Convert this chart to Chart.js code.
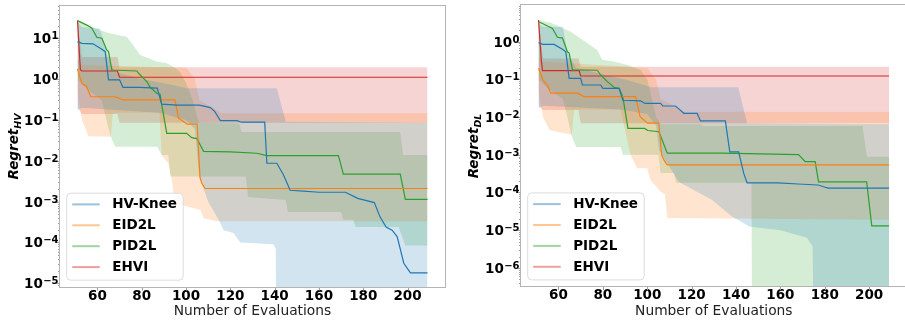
<!DOCTYPE html>
<html lang="en">
<head>
<meta charset="UTF-8" />
<title>Regret curves</title>
<script src="https://cdn.jsdelivr.net/npm/chart.js"></script>
<style>
  html, body { margin: 0; padding: 0; background: #fff; overflow: hidden; }
  body { width: 905px; height: 323px; position: relative; }
  canvas { position: absolute; top: 0; }
  #hvChart { left: 0; }
  #dlChart { left: 455px; }
</style>
</head>
<body>
<canvas id="hvChart" width="455" height="323"></canvas>
<canvas id="dlChart" width="470" height="323"></canvas>
<script>
const methods = ["HV-Knee", "EID2L", "PID2L", "EHVI"];
const xTicks = [60, 80, 100, 120, 140, 160, 180, 200];
const hvTicks = [1e-5, 1e-4, 1e-3, 1e-2, 1e-1, 1, 10];
const hvTickExps = ["−5", "−4", "−3", "−2", "−1", "0", "1"];
const dlTicks = [1e-6, 1e-5, 1e-4, 1e-3, 1e-2, 1e-1, 1];
const dlTickExps = ["−6", "−5", "−4", "−3", "−2", "−1", "0"];

// left panel: Regret_HV  ([evaluations, value])
const kneeMeanHV = [[51,8.3],[53,7.5],[58,7.3],[62,5.4],[63.5,4.7],[65,0.96],[70,0.96],[71.5,0.63],[79,0.63],[87,0.6],[89,0.245],[96,0.23],[106,0.23],[111,0.2],[113,0.16],[115.5,0.096],[123,0.096],[125,0.088],[135.5,0.088],[136.5,0.0087],[141,0.0087],[144,0.0045],[147,0.0019],[153,0.0018],[160,0.0017],[172,0.0017],[177.5,0.0012],[185,0.00095],[187.5,0.00043],[190.3,0.00024],[193,0.0002],[195.3,0.00014],[198.3,0.000031],[201.3,0.000018],[209,0.000018]];
const kneeLowHV = [[51,0.175],[53,0.2],[88,0.15],[100,0.1],[104,0.06],[106,0.004],[110,0.001],[114.7,0.00036],[117,0.0002],[121.4,0.00017],[124.5,0.0001],[139.5,0.00009],[140.5,0.00007],[141,1e-9],[209,1e-9]];
const kneeHighHV = [[51,25],[53,19],[61,17],[63,8],[65,3],[68,1.5],[80,1.0],[95,0.7],[100,0.6],[141,0.6],[145,0.09],[209,0.085]];

const eid2lMeanHV = [[51,1.78],[53,0.77],[55,0.68],[57,0.37],[68,0.37],[71.5,0.31],[95,0.31],[96.6,0.11],[99,0.09],[100.5,0.079],[105,0.079],[106.3,0.004],[107,0.0029],[108.6,0.0021],[209,0.0021]];
const eid2lLowHV = [[51,0.5],[53,0.1],[56,0.04],[66,0.039],[67,0.15],[88,0.15],[89,0.0138],[92,0.0087],[93.6,0.0034],[95,0.0009],[106.4,0.00063],[108,0.00039],[114,0.00033],[209,0.00033]];
const eid2lHighHV = [[51,3.0],[53,2.2],[100,1.9],[104,1.0],[106,0.3],[112,0.2],[116,0.146],[209,0.146]];

const pid2lMeanHV = [[51,27],[55.2,21],[57.5,17.6],[59.7,10.6],[62,10],[64.2,5.2],[65,4.7],[66.5,1.67],[77.8,1.58],[79.3,1.26],[82.3,0.87],[83.8,0.63],[86.8,0.45],[88.3,0.42],[89,0.24],[91.3,0.047],[100.3,0.047],[102.6,0.037],[104.9,0.035],[107.9,0.017],[120,0.0165],[132,0.0153],[136.5,0.0134],[168.8,0.0134],[171,0.0047],[196.7,0.0047],[199,0.00114],[209,0.00114]];
const pid2lLowHV = [[51,1.0],[55,0.6],[62,0.3],[64,0.1],[66,0.04],[68,0.022],[87,0.022],[89,0.0138],[92,0.0138],[93,0.0041],[127,0.0041],[128,0.0013],[145,0.0011],[146,0.00056],[170,0.00056],[171,0.00036],[175.5,0.00036],[176.5,0.00024],[196,0.00024],[199,0.000084],[209,0.000084]];
const pid2lHighHV = [[51,27],[53.5,24],[61.2,16],[65.7,13],[73.2,10.9],[75.5,7.5],[79.3,3.9],[86.8,2.7],[91.3,2.45],[94.3,2.0],[97.3,1.5],[100,0.8],[103,0.3],[105,0.12],[106,0.085],[124,0.082],[125,0.051],[196.6,0.051],[198,0.0138],[209,0.0138]];

const ehviMeanHV = [[51,27],[52.3,1.7],[53,1.58],[69,1.58],[70,1.11],[209,1.11]];
const ehviLowHV = [[51,0.2],[53,0.14],[69,0.14],[70,0.085],[209,0.085]];
const ehviHighHV = [[51,27],[53,3.5],[69,3.5],[70,1.95],[209,1.95]];

// right panel: Regret_DL
const kneeMeanDL = [[51,0.94],[53,0.85],[58,0.85],[61.8,0.63],[63.3,0.54],[64.8,0.107],[70,0.107],[70.8,0.071],[79,0.071],[80,0.058],[87.3,0.058],[89,0.028],[97,0.027],[99,0.023],[106,0.023],[107,0.0197],[112.7,0.0197],[114,0.017],[116.5,0.0126],[122.5,0.0125],[124,0.0079],[135.2,0.0079],[137.2,0.0012],[141.2,0.0012],[143.5,0.00032],[145,0.00018],[159,0.00018],[168,0.000168],[177,0.000158],[179.5,0.000142],[181.5,0.00013],[209,0.00013]];
const kneeLowDL = [[51,0.017],[53,0.02],[88,0.016],[100,0.012],[104,0.006],[105.3,0.00134],[114.3,0.00019],[129.2,0.000063],[138.2,0.000023],[146,0.0000125],[160,0.00001],[172,0.0000063],[174.5,0.0000037],[175.5,1e-9],[209,1e-9]];
const kneeHighDL = [[51,3.0],[53,2.5],[62,2.5],[64,0.5],[68,0.2],[90,0.1],[102,0.062],[141,0.062],[145,0.0069],[209,0.0065]];

const eid2lMeanDL = [[51,0.196],[53,0.096],[55,0.07],[56.5,0.043],[68.5,0.043],[71.5,0.035],[94.8,0.035],[96.8,0.0102],[100.1,0.0069],[105.2,0.0069],[106.5,0.001],[107.5,0.00073],[109,0.00054],[209,0.00054]];
const eid2lLowDL = [[51,0.05],[53,0.01],[56,0.0045],[66,0.0034],[67,0.016],[88,0.016],[92,0.0013],[93,0.00085],[95.5,0.00044],[100,0.00044],[101.5,0.00021],[106,0.000105],[108,0.00009],[109,0.000021],[209,0.000019]];
const eid2lHighDL = [[51,0.4],[53,0.3],[100,0.2],[104,0.1],[106,0.03],[112,0.02],[116,0.0139],[209,0.0139]];

const pid2lMeanDL = [[51,3.4],[53,3.0],[57.3,2.26],[59.5,1.31],[61.8,1.25],[64,0.54],[64.8,0.5],[66.3,0.178],[77.5,0.175],[79,0.131],[82,0.087],[85,0.062],[87.3,0.058],[89,0.035],[91.3,0.005],[98.8,0.005],[100.3,0.0044],[105.3,0.0041],[109,0.0011],[133.7,0.0011],[168.2,0.00101],[171.2,0.00066],[175.7,0.00066],[177.2,0.00019],[198.9,0.00019],[201.2,0.000013],[209,0.000013]];
const pid2lLowDL = [[51,0.1],[55,0.06],[62,0.03],[64,0.01],[66,0.003],[68,0.0016],[88,0.0016],[89,0.001],[105,0.001],[106,0.00033],[112,0.00033],[113,0.00018],[147,0.00018],[147.3,1e-9],[209,1e-9]];
const pid2lHighDL = [[51,3.76],[56.5,3.2],[65.5,1.84],[77.5,0.6],[79.7,0.33],[85,0.3],[91,0.24],[97,0.177],[100,0.1],[104,0.01],[106,0.0065],[124,0.0065],[125,0.0058],[197,0.0058],[199,0.00089],[209,0.00089]];

const ehviMeanDL = [[51,3.76],[52.3,0.3],[52.8,0.17],[69.3,0.17],[70,0.123],[209,0.123]];
const ehviLowDL = [[51,0.02],[53,0.0154],[69,0.0154],[70,0.0069],[209,0.0069]];
const ehviHighDL = [[51,3.76],[53,0.36],[69,0.36],[70,0.217],[209,0.217]];

const colors = ["31,119,180", "255,127,14", "44,160,44", "214,39,40"];
const family = "'DejaVu Sans', sans-serif";

const pts = arr => arr.map(([x, y]) => ({ x, y }));

const decor = {
  id: "decor",
  afterDraw(chart, args, o) {
    const { ctx, chartArea: a, scales } = chart;
    ctx.save();
    // tick marks
    ctx.strokeStyle = "#a0a0a0";
    ctx.lineWidth = 1;
    ctx.beginPath();
    xTicks.forEach(v => {
      const px = Math.round(scales.x.getPixelForValue(v)) + 0.5;
      ctx.moveTo(px, a.bottom);
      ctx.lineTo(px, a.bottom + 3.5);
    });
    const lo = Math.floor(Math.log10(scales.y.min));
    const hi = Math.ceil(Math.log10(scales.y.max));
    for (let d = lo; d <= hi; d++) {
      for (let k = 1; k < 10; k++) {
        const v = k * Math.pow(10, d);
        if (v < scales.y.min || v > scales.y.max) continue;
        const py = Math.round(scales.y.getPixelForValue(v)) + 0.5;
        ctx.moveTo(a.left, py);
        ctx.lineTo(a.left - (k === 1 ? 3.5 : 2), py);
      }
    }
    ctx.stroke();
    // frame
    ctx.strokeStyle = "#b4b4b4";
    ctx.strokeRect(Math.round(a.left) - 0.5, Math.round(a.top) - 0.5,
      Math.round(a.right - a.left) + 1, Math.round(a.bottom - a.top) + 1);

    // y tick labels: 10 with raised exponent
    ctx.fillStyle = "#000";
    ctx.textBaseline = "alphabetic";
    o.ticks.forEach((v, i) => {
      const py = scales.y.getPixelForValue(v);
      ctx.font = "bold 13.5px " + family;
      const wb = ctx.measureText("10").width;
      ctx.font = "bold 10px " + family;
      const we = ctx.measureText(o.exps[i]).width;
      const x0 = a.left - 1.8 - wb - we;
      ctx.font = "bold 13.5px " + family;
      ctx.fillText("10", x0, py + 5);
      ctx.font = "bold 10px " + family;
      ctx.fillText(o.exps[i], x0 + wb + 0.3, py + 1);
    });

    // y title with subscript
    ctx.translate(o.titleX, (a.top + a.bottom) / 2);
    ctx.rotate(-Math.PI / 2);
    ctx.font = "italic bold 13.5px " + family;
    const w1 = ctx.measureText(o.title).width;
    ctx.font = "italic bold 9.5px " + family;
    const w2 = ctx.measureText(o.sub).width;
    const start = -(w1 + w2) / 2;
    ctx.font = "italic bold 13.5px " + family;
    ctx.fillText(o.title, start, 5);
    ctx.font = "italic bold 9.5px " + family;
    ctx.fillText(o.sub, start + w1, 8);
    ctx.setTransform(1, 0, 0, 1, 0, 0);

    // legend
    const bx = a.left + 6.2, bw = 116.5, bh = 87, by = a.bottom - 7.3 - bh;
    ctx.beginPath();
    ctx.roundRect(bx + 0.5, by + 0.5, bw, bh, 4);
    ctx.fillStyle = "rgba(255,255,255,0.8)";
    ctx.fill();
    ctx.strokeStyle = "#dcdcdc";
    ctx.stroke();
    ctx.font = "bold 13.5px " + family;
    ctx.textBaseline = "middle";
    methods.forEach((m, i) => {
      const y = by + 11.7 + i * 20.9;
      ctx.strokeStyle = "rgba(" + colors[i] + ",0.45)";
      ctx.lineWidth = 2;
      ctx.beginPath();
      ctx.moveTo(bx + 6, y);
      ctx.lineTo(bx + 33.5, y);
      ctx.stroke();
      ctx.fillStyle = "#000";
      ctx.fillText(m, bx + 46, y + 0.5);
    });
    ctx.restore();
  }
};

function makeChart(id, c) {
  const datasets = [];
  methods.forEach((m, i) => {
    datasets.push({
      label: m + " upper", data: pts(c.high[i]), order: 1,
      borderWidth: 0, borderColor: "rgba(0,0,0,0)", pointRadius: 0,
      fill: "+1", backgroundColor: "rgba(" + colors[i] + ",0.2)"
    });
    datasets.push({
      label: m + " lower", data: pts(c.low[i]), order: 1,
      borderWidth: 0, borderColor: "rgba(0,0,0,0)", pointRadius: 0, fill: false
    });
  });
  methods.forEach((m, i) => {
    datasets.push({
      label: m, data: pts(c.mean[i]), order: 0,
      borderColor: "rgb(" + colors[i] + ")", borderWidth: 1.2, pointRadius: 0, fill: false
    });
  });

  return new Chart(document.getElementById(id), {
    type: "line",
    data: { datasets },
    plugins: [decor],
    options: {
      responsive: false,
      animation: false,
      events: [],
      layout: { padding: { left: 0, top: c.top, right: c.right, bottom: 0 } },
      plugins: {
        legend: { display: false },
        tooltip: { enabled: false },
        decor: { title: "Regret", sub: c.sub, titleX: c.titleX, ticks: c.ticks, exps: c.exps }
      },
      scales: {
        x: {
          type: "linear", min: 43.1, max: 216.9,
          afterBuildTicks: s => { s.ticks = xTicks.map(v => ({ value: v })); },
          afterFit: s => { s.height = c.xHeight; },
          grid: { display: false, drawTicks: false },
          border: { display: false },
          ticks: {
            padding: 1, color: "#000", autoSkip: false, maxRotation: 0,
            font: { family, size: 13.5, weight: "bold" },
            callback: v => String(v)
          },
          title: {
            display: true, text: "Number of Evaluations", color: "#222",
            font: { family, size: 13.8 }, padding: { top: 0, bottom: 3 }
          }
        },
        y: {
          type: "logarithmic", min: c.yMin, max: c.yMax,
          afterBuildTicks: s => { s.ticks = c.ticks.map(v => ({ value: v })); },
          afterFit: s => { s.width = c.yWidth; },
          grid: { display: false, drawTicks: false },
          border: { display: false },
          ticks: { display: false }
        }
      }
    }
  });
}

makeChart("hvChart", {
  sub: "HV", titleX: 13.3, top: 6, right: 10, xHeight: 36, yWidth: 60,
  yMin: Math.pow(10, -5.09), yMax: Math.pow(10, 1.79),
  ticks: hvTicks, exps: hvTickExps,
  mean: [kneeMeanHV, eid2lMeanHV, pid2lMeanHV, ehviMeanHV],
  low: [kneeLowHV, eid2lLowHV, pid2lLowHV, ehviLowHV],
  high: [kneeHighHV, eid2lHighHV, pid2lHighHV, ehviHighHV]
});

makeChart("dlChart", {
  sub: "DL", titleX: 18, top: 5.3, right: 18.4, xHeight: 36.3, yWidth: 66,
  yMin: Math.pow(10, -6.5), yMax: Math.pow(10, 0.966),
  ticks: dlTicks, exps: dlTickExps,
  mean: [kneeMeanDL, eid2lMeanDL, pid2lMeanDL, ehviMeanDL],
  low: [kneeLowDL, eid2lLowDL, pid2lLowDL, ehviLowDL],
  high: [kneeHighDL, eid2lHighDL, pid2lHighDL, ehviHighDL]
});
</script>
</body>
</html>
